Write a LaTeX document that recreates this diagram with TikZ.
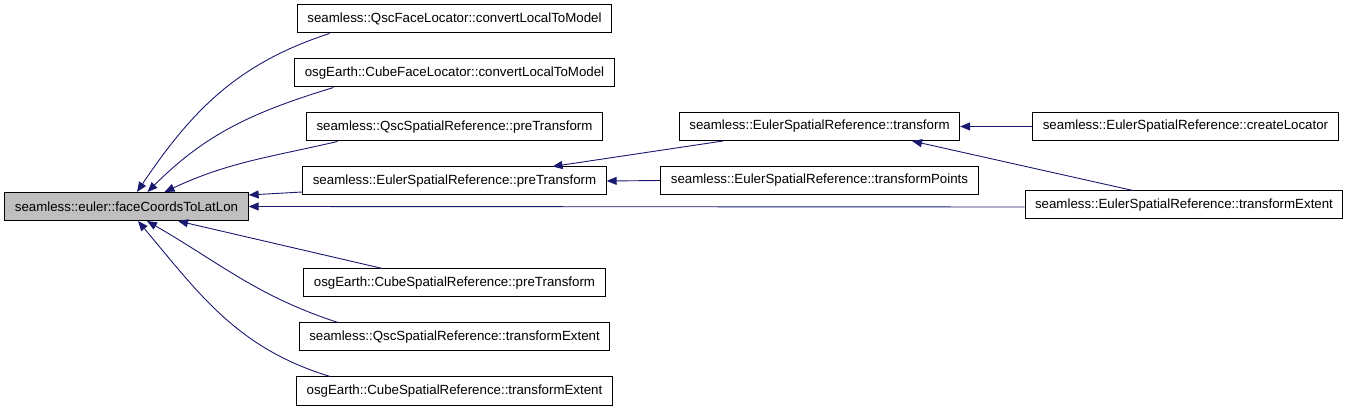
\documentclass[tikz,border=0pt]{standalone}
\usepackage{fontspec}
\setmainfont{Liberation Sans}
\usepackage{tikz}
\usetikzlibrary{arrows.meta, positioning}
\definecolor{edgeblue}{HTML}{191970}
\definecolor{boxgray}{HTML}{BFBFBF}

\begin{document}
\begin{tikzpicture}[
  x=1pt, y=1pt,
  font=\fontsize{13.3}{16}\selectfont,
  >={Triangle[length=10pt,width=8pt]},
  func/.style={
    rectangle, draw=black, line width=1pt, fill=white,
    minimum height=28pt, inner xsep=10pt, inner ysep=0pt
  },
  target/.style={func, fill=boxgray},
  call/.style={->, line width=0.9pt, color=edgeblue}
]

\useasboundingbox (0,0) rectangle (1349,-411);

% Function being called
\node[target] (latlon) at (126.5,-206.5) {seamless::euler::faceCoordsToLatLon};

% Direct callers
\node[func] (qscloc) at (454.5,-19) {seamless::QscFaceLocator::convertLocalToModel};
\node[func, below=25pt of qscloc] (cubeloc) {osgEarth::CubeFaceLocator::convertLocalToModel};
\node[func, below=25pt of cubeloc] (qscpre) {seamless::QscSpatialReference::preTransform};
\node[func, below=25pt of qscpre] (eulerpre) {seamless::EulerSpatialReference::preTransform};
\node[func, below=73pt of eulerpre] (cubepre) {osgEarth::CubeSpatialReference::preTransform};
\node[func, below=25pt of cubepre] (qscext) {seamless::QscSpatialReference::transformExtent};
\node[func, below=25pt of qscext] (cubeext) {osgEarth::CubeSpatialReference::transformExtent};

% Callers of preTransform
\node[func] (eulertf) at (819.5,-126.5) {seamless::EulerSpatialReference::transform};
\node[func, below=25pt of eulertf] (eulerpts) {seamless::EulerSpatialReference::transformPoints};

% Callers of transform
\node[func] (eulerloc) at (1185.5,-126.5) {seamless::EulerSpatialReference::createLocator};
\node[func] (eulerext) at (1184,-205) {seamless::EulerSpatialReference::transformExtent};

% Call edges into faceCoordsToLatLon
\draw[call] ([xshift=-125pt]qscloc.south) to[out=198,in=56] ([xshift=10.5pt]latlon.north);
\draw[call] ([xshift=-121pt]cubeloc.south) to[out=197,in=45] ([xshift=21pt]latlon.north);
\draw[call] ([xshift=-117pt]qscpre.south) to[out=193,in=25] ([xshift=38pt]latlon.north);
\draw[call] ([yshift=-11pt]eulerpre.west) -- ([yshift=11.5pt]latlon.east);
\draw[call] ([yshift=-2pt]eulerext.west) -- (latlon.east);
\draw[call] ([xshift=-72pt]cubepre.north) -- ([xshift=51.5pt]latlon.south);
\draw[call] ([xshift=-116.5pt]qscext.north) to[out=162,in=-30] ([xshift=20.5pt]latlon.south);
\draw[call] ([xshift=-124.5pt]cubeext.north) to[out=163,in=-50] ([xshift=11.5pt]latlon.south);

% Call edges into preTransform and transform
\draw[call] ([xshift=-96.5pt]eulertf.south) -- ([xshift=98pt]eulerpre.north);
\draw[call] (eulerpts.west) -- (eulerpre.east);
\draw[call] (eulerloc.west) -- (eulertf.east);
\draw[call] ([xshift=-51pt]eulerext.north) -- ([xshift=92.5pt]eulertf.south);

\end{tikzpicture}
\end{document}
